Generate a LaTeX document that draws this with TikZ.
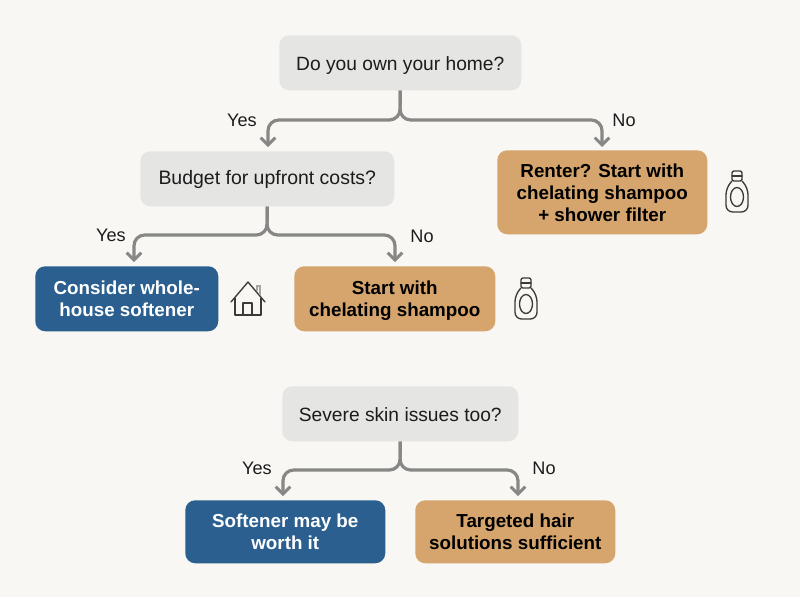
\documentclass[tikz,border=0pt]{standalone}
\usepackage{fontspec}
\setmainfont{Liberation Sans}
\usetikzlibrary{arrows.meta}
\definecolor{bgc}{HTML}{F8F7F3}
\definecolor{qfill}{HTML}{E5E5E4}
\definecolor{bluec}{HTML}{2A5F8F}
\definecolor{tanc}{HTML}{D5A56D}
\definecolor{linec}{HTML}{878785}
\definecolor{icon}{HTML}{3A3A38}
\definecolor{ink}{HTML}{1C1C1C}
\newcommand{\qt}[2][-5.8pt]{\raisebox{#1}[0pt][0pt]{#2}}
\newcommand{\topln}[1]{\rule{0pt}{#1}}
\tikzset{
  boxbase/.style={rounded corners=7.5pt,inner sep=0pt,align=center,anchor=north west},
  qbox/.style={boxbase,fill=qfill,text=ink,font=\fontsize{14.4}{17}\selectfont},
  bluebox/.style={boxbase,fill=bluec,text=white,font=\bfseries\fontsize{14.1}{16.5}\selectfont},
  tanbox/.style={boxbase,fill=tanc,text=black,font=\bfseries\fontsize{14.1}{16.5}\selectfont},
  conn/.style={draw=linec,line width=2.4pt,rounded corners=8pt,-{Straight Barb[length=5.5pt,width=11pt,line width=2.2pt]},shorten >=1.5pt},
  lab/.style={text=ink,font=\fontsize{13.6}{16}\selectfont,inner sep=0pt},
  ic/.style={draw=icon,line width=1pt,line join=round,line cap=round}
}
\begin{document}
\begin{tikzpicture}[x=0.75pt,y=-0.75pt]
\useasboundingbox[fill=bgc] (0,0) rectangle (800,597);
\node[qbox,minimum width=181.5pt,minimum height=41.25pt] (q1) at (279,35) {\qt{Do you own your home?}};
\node[qbox,minimum width=190.5pt,minimum height=41.25pt] (q2) at (140,151) {\qt[-4.6pt]{\fontsize{14.6}{17}\selectfont Budget for upfront costs?}};
\node[tanbox,minimum width=157.5pt,minimum height=63pt] (rent) at (497,150) {\topln{16pt}Renter? Start with\\\strut chelating shampoo\\\strut + shower filter};
\node[bluebox,minimum width=137.25pt,minimum height=48.75pt] (cons) at (35,266) {\topln{15.4pt}Consider whole-\\\strut house softener};
\node[tanbox,minimum width=150.75pt,minimum height=48.75pt] (start) at (294,266) {\topln{15.4pt}Start with\\\strut chelating shampoo};
\node[qbox,minimum width=177pt,minimum height=41.25pt] (q3) at (282,386) {\qt{Severe skin issues too?}};
\node[bluebox,minimum width=150pt,minimum height=47.25pt] (soft) at (185,500) {\topln{14.6pt}Softener may be\\\strut worth it};
\node[tanbox,minimum width=150pt,minimum height=47.25pt] (targ) at (415,500) {\topln{14.6pt}Targeted hair\\\strut solutions sufficient};

\coordinate (j1) at (400,120);
\coordinate (j2) at (267,235);
\coordinate (j3) at (400,470);
\coordinate (e1) at (268,149);
\coordinate (e2) at (602,149);
\coordinate (e3) at (134,264);
\coordinate (e4) at (395,264);
\coordinate (e5) at (283,498);
\coordinate (e6) at (518,498);
\draw[conn] (q1.south) -- (j1) -| (e1);
\draw[conn] (q1.south) -- (j1) -| (e2);
\draw[conn] (q2.south) -- (j2) -| (e3);
\draw[conn] (q2.south) -- (j2) -| (e4);
\draw[conn] (q3.south) -- (j3) -| (e5);
\draw[conn] (q3.south) -- (j3) -| (e6);

\node[lab] (l1) at (242,120) {Yes};
\node[lab] (l2) at (624,120) {No};
\node[lab] (l3) at (111,235) {Yes};
\node[lab] (l4) at (422,236) {No};
\node[lab] (l5) at (257,468) {Yes};
\node[lab] (l6) at (544,468) {No};

% house icon
\draw[ic] (231,302) -- (248,282) -- (265,302);
\draw[ic] (235,298) -- (235,315) -- (261,315) -- (261,298);
\draw[ic] (243,315) -- (243,303) -- (252,303) -- (252,315);
\draw[draw=icon!45,line width=1pt] (257,291) -- (257,286) -- (260,286) -- (260,295);
% bottle icons
\foreach \x/\y in {526/298,737/191}{
  \draw[ic,rounded corners=1.5pt] (\x-5,\y-20) rectangle (\x+5,\y-10);
  \draw[ic] (\x-5,\y-15) -- (\x+5,\y-15);
  \draw[ic,rounded corners=5pt] (\x-5,\y-10) -- (\x-11,\y-3) -- (\x-11,\y+21) -- (\x+11,\y+21) -- (\x+11,\y-3) -- (\x+5,\y-10);
  \draw[ic] (\x,\y+6) ellipse [x radius=6.5,y radius=9.5];
}
\end{tikzpicture}
\end{document}
